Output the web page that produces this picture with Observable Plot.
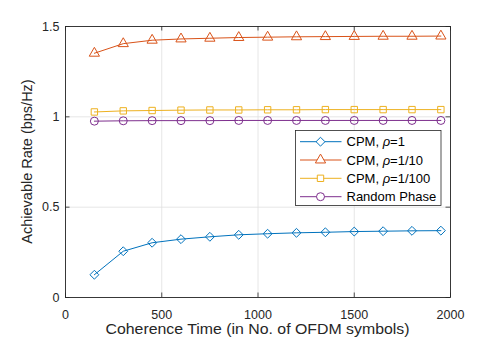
<!DOCTYPE html>
<html><head><meta charset="utf-8">
<script src="https://cdn.jsdelivr.net/npm/d3@7"></script>
<script src="https://cdn.jsdelivr.net/npm/@observablehq/plot@0.6"></script>
<style>
html,body{margin:0;padding:0;background:#fff;}
svg{display:block;}
</style></head><body>
<div id="chart"></div>
<script>
// ---- data ----
const coherenceTime = [150, 300, 450, 600, 750, 900, 1050, 1200, 1350, 1500, 1650, 1800, 1950];
const cpmRho1   = [0.126, 0.256, 0.303, 0.323, 0.336, 0.347, 0.353, 0.358, 0.361, 0.365, 0.367, 0.369, 0.370];
const cpmRho10  = [1.352, 1.405, 1.424, 1.431, 1.435, 1.439, 1.441, 1.443, 1.444, 1.445, 1.446, 1.446, 1.447];
const cpmRho100 = [1.027, 1.033, 1.035, 1.037, 1.038, 1.038, 1.039, 1.039, 1.040, 1.040, 1.040, 1.040, 1.040];
const randomPhase = [0.976, 0.978, 0.979, 0.979, 0.979, 0.980, 0.980, 0.980, 0.980, 0.980, 0.980, 0.980, 0.980];
const legendLabels = [["CPM, ", "ρ", "=1"], ["CPM, ", "ρ", "=1/10"], ["CPM, ", "ρ", "=1/100"], ["Random Phase", "", ""]];
const xTicks = [0, 500, 1000, 1500, 2000];
const yTicks = [0, 0.5, 1, 1.5];
const xLabel = "Coherence Time (in No. of OFDM symbols)";
const yLabel = "Achievable Rate (bps/Hz)";

// ---- layout / style ----
const W = 498, H = 343;
const mL = 65, mR = 48, mT = 26, mB = 46;
const iW = W - mL - mR, iH = H - mT - mB;
const axisColor = "#262626";
const gridColor = "#dfdfdf";
const font = "'Liberation Sans', Arial, Helvetica, sans-serif";
const tickLen = 4.5;

const styles = [
  {values: cpmRho1,   color: "#0072BD", symbol: "diamond2", d3sym: d3.symbolDiamond2, r: 4.0},
  {values: cpmRho10,  color: "#D95319", symbol: "triangle", d3sym: d3.symbolTriangle, r: 3.8},
  {values: cpmRho100, color: "#EDB120", symbol: "square",   d3sym: d3.symbolSquare,   r: 3.6},
  {values: randomPhase, color: "#7E2F8E", symbol: "circle", d3sym: d3.symbolCircle,   r: 4.0}
];

const seriesMarks = styles.flatMap(s => {
  const data = coherenceTime.map((t, i) => ({t, v: s.values[i]}));
  return [
    Plot.line(data, {x: "t", y: "v", stroke: s.color, strokeWidth: 1}),
    Plot.dot(data, {x: "t", y: "v", symbol: s.symbol, r: s.r, stroke: s.color, fill: "none", strokeWidth: 1})
  ];
});

const svg = Plot.plot({
  width: W, height: H,
  marginLeft: mL, marginRight: mR, marginTop: mT, marginBottom: mB,
  style: {fontFamily: font, fontSize: "12.5px", color: axisColor, background: "#fff"},
  x: {domain: [0, 2000]},
  y: {domain: [0, 1.5]},
  marks: [
    Plot.gridX(xTicks, {stroke: gridColor, strokeOpacity: 1, strokeWidth: 0.8}),
    Plot.gridY(yTicks, {stroke: gridColor, strokeOpacity: 1, strokeWidth: 0.8}),
    ...seriesMarks,
    Plot.tickX(xTicks, {x: d => d, insetTop: iH - tickLen, stroke: axisColor, strokeWidth: 0.8}),
    Plot.tickX(xTicks, {x: d => d, insetBottom: iH - tickLen, stroke: axisColor, strokeWidth: 0.8}),
    Plot.tickY(yTicks, {y: d => d, insetRight: iW - tickLen, stroke: axisColor, strokeWidth: 0.8}),
    Plot.tickY(yTicks, {y: d => d, insetLeft: iW - tickLen, stroke: axisColor, strokeWidth: 0.8}),
    Plot.frame({stroke: axisColor, strokeWidth: 0.9}),
    Plot.axisX({ticks: xTicks, tickSize: 0, tickPadding: 12.5, tickFormat: d => String(d), label: null}),
    Plot.axisY({ticks: yTicks, tickSize: 0, tickPadding: 6, tickFormat: d => String(d), label: null})
  ]
});
document.getElementById("chart").appendChild(svg);

const s = d3.select(svg);
// axis titles
s.append("text")
  .attr("x", mL + iW / 2).attr("y", H - mB + 37.2)
  .attr("text-anchor", "middle").attr("font-size", 14).attr("fill", axisColor)
  .attr("textLength", 304).attr("lengthAdjust", "spacingAndGlyphs")
  .text(xLabel);
s.append("text")
  .attr("transform", `translate(27,${mT + iH / 2}) rotate(-90)`)
  .attr("text-anchor", "middle").attr("dy", "0.35em").attr("font-size", 14.5).attr("fill", axisColor)
  .text(yLabel);

// legend
const lg = s.append("g").attr("transform", "translate(295.5,130.5)");
lg.append("rect").attr("width", 145.5).attr("height", 75)
  .attr("fill", "#fff").attr("stroke", axisColor).attr("stroke-width", 0.8);
const rowY = [11.2, 29.5, 47.8, 66.2];
styles.forEach((st, i) => {
  const g = lg.append("g").attr("transform", `translate(0,${rowY[i]})`);
  g.append("line").attr("x1", 4.5).attr("x2", 46).attr("stroke", st.color).attr("stroke-width", 1);
  g.append("path").attr("transform", "translate(25,0)")
    .attr("d", d3.symbol(st.d3sym, Math.PI * st.r * st.r)())
    .attr("fill", "#fff").attr("stroke", st.color).attr("stroke-width", 1);
  const t = g.append("text").attr("x", 51).attr("dy", "0.35em").attr("text-anchor", "start")
    .attr("font-size", 13).attr("fill", "#000");
  const [a, b, c] = legendLabels[i];
  t.append("tspan").text(a);
  if (b) t.append("tspan").attr("font-style", "italic").text(b);
  if (c) t.append("tspan").text(c);
});
</script>
</body></html>
